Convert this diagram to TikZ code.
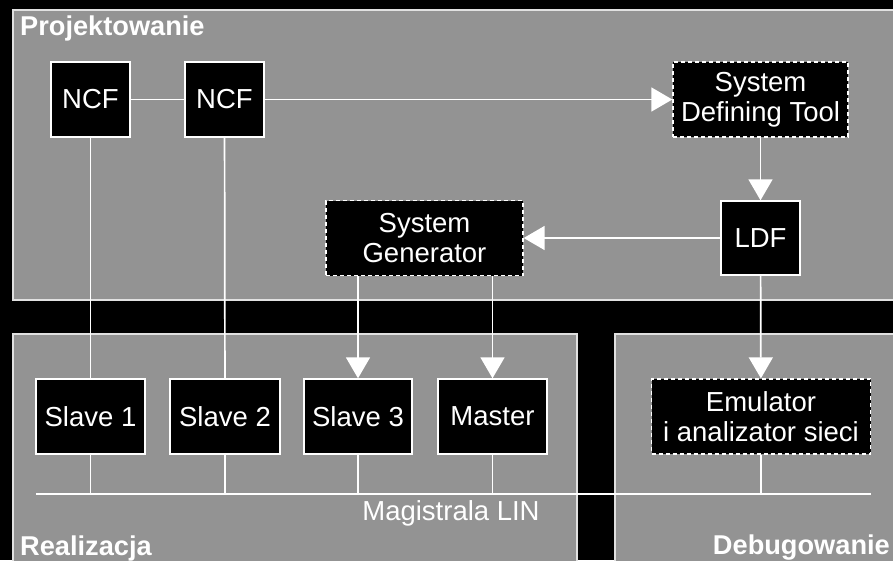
\documentclass[tikz,border=0pt]{standalone}
\usepackage{fontspec}
\setmainfont{Liberation Sans}
\usetikzlibrary{arrows.meta}
\definecolor{panelgray}{RGB}{147,147,147}
\definecolor{edgegray}{RGB}{225,225,225}
\begin{document}
\begin{tikzpicture}[x=1pt,y=-1pt,
  panel/.style={fill=panelgray,draw=edgegray,line width=1.3pt},
  box/.style={fill=black,draw=white,line width=1.4pt,text=white,inner sep=0pt,
    align=center,font=\fontsize{27.5}{30}\selectfont},
  dbox/.style={box,dash pattern=on 4pt off 3pt},
  link/.style={draw=white,line width=1.7pt},
  arr/.style={link,-{Triangle[length=21pt,width=24pt]}},
  title/.style={text=white,font=\bfseries\fontsize{27.2}{30}\selectfont,inner sep=0pt}]
\fill[black] (0,0) rectangle (893,560);
\useasboundingbox (0,0) rectangle (893,560);
\begin{scope}
\clip (0,0) rectangle (893,560);
\draw[panel] (13,10) rectangle (905,300);
\draw[panel] (13,334) rectangle (577,575);
\draw[panel] (615,334) rectangle (905,575);
\end{scope}
\node[title,anchor=west] (tp) at (20,28) {Projektowanie};
\node[title,anchor=west] (tr) at (20,548) {Realizacja};
\node[title,anchor=east] (td) at (890,548) {Debugowanie};

\node[box,minimum width=79pt,minimum height=75pt] (ncf1) at (90.5,99.5) {NCF};
\node[box,minimum width=79pt,minimum height=75pt] (ncf2) at (224.5,99.5) {NCF};
\node[dbox,minimum width=175pt,minimum height=75pt] (sdt) at (760.5,99.5) {System\\Defining Tool};
\node[box,minimum width=79pt,minimum height=74pt] (ldf) at (760.5,238) {LDF};
\node[dbox,minimum width=197pt,minimum height=75pt] (sg) at (424.5,238) {System\\Generator};

\node[box,minimum width=109pt,minimum height=75pt] (s1) at (90.5,416.5) {Slave 1};
\node[box,minimum width=110pt,minimum height=75pt] (s2) at (225,416.5) {Slave 2};
\node[box,minimum width=108pt,minimum height=75pt] (s3) at (358,416.5) {Slave 3};
\node[box,minimum width=109pt,minimum height=75pt] (m) at (492.5,416.5) {Master};
\node[dbox,minimum width=219pt,minimum height=75pt] (emu) at (761,416.5) {Emulator\\i analizator sieci};

\coordinate (busL) at (36,494);
\coordinate (busR) at (871,494);
\node[text=white,font=\fontsize{27.5}{30}\selectfont,inner sep=0pt] (lin) at (451,513) {Magistrala LIN};

\draw[link] (ncf1) -- (ncf2);
\draw[arr] (ncf2) -- (sdt);
\draw[arr] (sdt) -- (ldf);
\draw[arr] (ldf) -- (sg);
\draw[arr] (ldf) -- (emu);
\draw[link] (ncf1) -- (s1);
\draw[link] (ncf2) -- (s2);
\draw[arr] (sg.south -| s3.north) -- (s3.north);
\draw[arr] (sg.south -| m.north) -- (m.north);

\draw[link,line width=2.2pt] (busL) -- (busR);
\foreach \n in {s1,s2,s3,m,emu}{
  \draw[link] (\n.south) -- (\n.south |- busL);
}
\end{tikzpicture}
\end{document}
